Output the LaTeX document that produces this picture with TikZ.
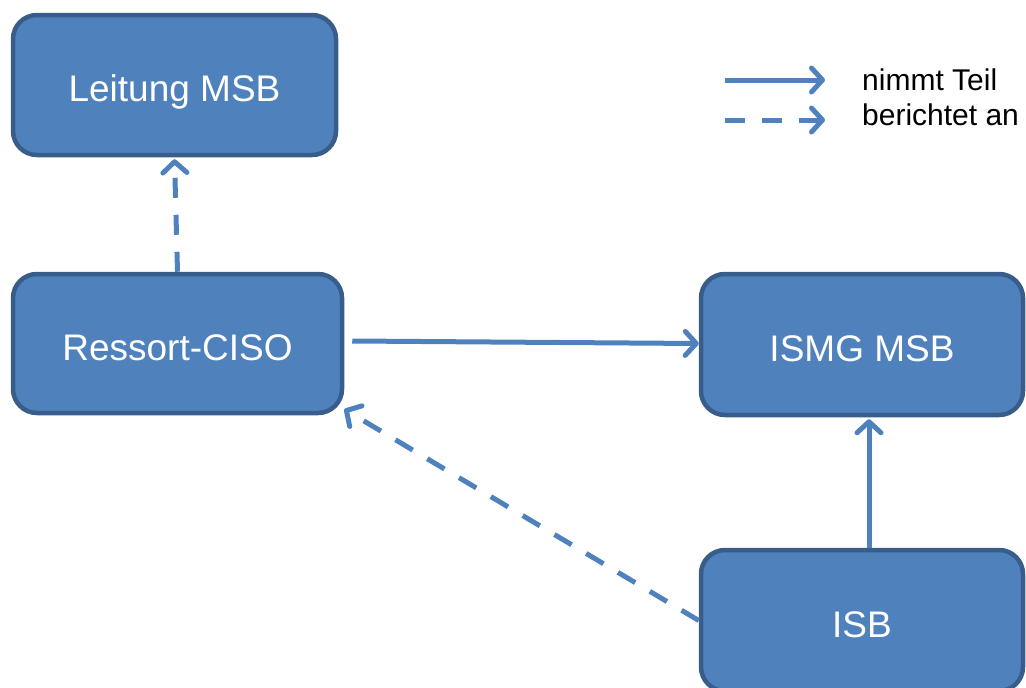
\documentclass[tikz,border=0pt]{standalone}
\usepackage{fontspec}
\setmainfont{Liberation Sans}
\usetikzlibrary{arrows.meta,calc}
\definecolor{boxfill}{HTML}{4F81BD}
\definecolor{boxline}{HTML}{385D8A}
\definecolor{arrowcol}{HTML}{4F81BD}
\begin{document}
\begin{tikzpicture}[x=1pt,y=-1pt,
  box/.style={draw=boxline, fill=boxfill, line width=4.5pt, rounded corners=24pt,
    text=white, font=\fontsize{37}{40}\selectfont, inner sep=0pt,
    text height=33pt, text depth=0pt},
  conn/.style={draw=arrowcol, line width=5pt,
    -{Straight Barb[length=11pt,width=24pt,round]}},
  dashconn/.style={conn, dash pattern=on 20pt off 17pt},
  legtext/.style={anchor=base west, font=\fontsize{30}{32}\selectfont, text=black, inner sep=0pt}
]
\useasboundingbox (0,0) rectangle (1026,688);
\begin{scope}
\clip (0,0) rectangle (1026,688);
\node[box, minimum width=323pt, minimum height=140pt] (lead) at (174.5,85) {Leitung MSB};
\node[box, minimum width=329pt, minimum height=139pt] (ciso) at (177.5,343.5) {Ressort-CISO};
\node[box, minimum width=322pt, minimum height=141pt] (ismg) at (862,344.5) {ISMG MSB};
\node[box, minimum width=322pt, minimum height=141pt] (isb) at (862,620.5) {ISB};
\end{scope}

\draw[dashconn] (ciso.north) -- ([yshift=-2pt]lead.south);
\draw[conn] ([shift={(8,-2.5)}]ciso.east) -- ([yshift=1pt]ismg.west);
\draw[conn] ([xshift=7pt]isb.north) -- ([xshift=7pt,yshift=-2pt]ismg.south);
\draw[dashconn] (isb.west) -- ($(ciso.south east)+(0,-6)$);

\coordinate (l1a) at (725,80);
\coordinate (l1b) at (825,80);
\coordinate (l2a) at (725,120);
\coordinate (l2b) at (825,120);
\draw[conn] (l1a) -- (l1b);
\draw[dashconn] (l2a) -- (l2b);
\node[legtext] (t1) at (862,90) {nimmt Teil};
\node[legtext] (t2) at (862,125) {berichtet an};
\end{tikzpicture}
\end{document}
